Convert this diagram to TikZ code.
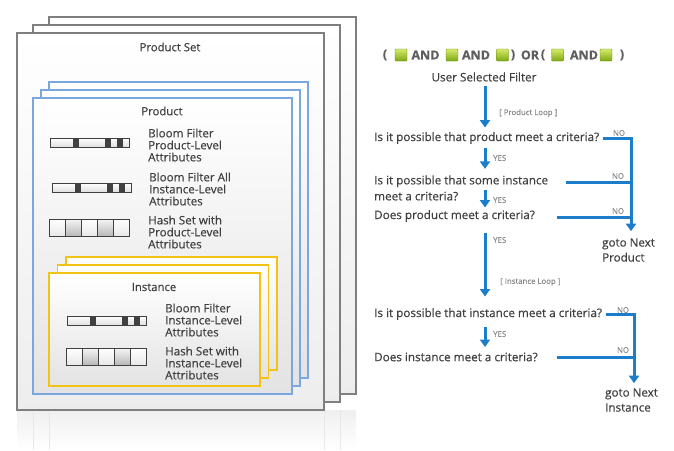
\documentclass[tikz,border=0pt]{standalone}
\usepackage{fontspec}
\setmainfont{Open Sans}[FakeBold=0.45]
\usetikzlibrary{arrows.meta}

\definecolor{txtgray}{HTML}{404040}
\definecolor{lblgray}{HTML}{8A8A8A}
\definecolor{cardgray}{HTML}{7F7F7F}
\definecolor{prodblue}{HTML}{7AA7DD}
\definecolor{instyellow}{HTML}{F2C314}
\definecolor{flowblue}{HTML}{1C7DCB}
\definecolor{sqtop}{HTML}{D6EA6A}
\definecolor{sqbot}{HTML}{7DA812}

\tikzset{
  card/.style={draw=cardgray, line width=1.4pt, top color=white, bottom color=gray!14},
  prodcard/.style={draw=prodblue, line width=1.2pt, top color=white, bottom color=gray!22},
  instcard/.style={draw=instyellow, line width=1.6pt, top color=white, bottom color=gray!22},
  title/.style={font=\fontsize{11.3}{13}\selectfont, text=txtgray},
  attr/.style={font=\fontsize{11.6}{12}\selectfont, text=txtgray, align=left, anchor=west, inner sep=0pt},
  quest/.style={font=\fontsize{11.7}{16}\selectfont, text=txtgray, align=left, anchor=west, inner sep=1pt},
  goto/.style={font=\fontsize{11.6}{15}\selectfont, text=txtgray, align=left, anchor=west, inner sep=1pt},
  tiny/.style={font=\fontsize{7.8}{9}\selectfont, text=lblgray, inner sep=0pt},
  flow/.style={draw=flowblue, line width=3pt, -{Triangle[width=10pt,length=7.5pt]}},
  noline/.style={draw=flowblue, line width=3pt},
  gsq/.style={minimum size=12pt, inner sep=0pt, rounded corners=0.8pt, top color=sqtop, bottom color=sqbot, draw=sqbot!80!black, line width=0.3pt},
  filtxt/.style={font=\fontsize{12.5}{14}\selectfont\bfseries, text=txtgray!85, inner sep=0pt},
  bloombar/.pic={
    \shade[top color=white, bottom color=gray!25] (0,0) rectangle (79,9);
    \foreach \m in {23,55,67} \fill[black!75] (\m,0) rectangle ++(5.5,9);
    \draw[darkgray, line width=0.7pt] (0,0) rectangle (79,9);
  },
  hashbar/.pic={
    \foreach \c in {0,2,4} \shade[top color=white, bottom color=gray!18] (16*\c,0) rectangle ++(16,17);
    \foreach \c in {1,3} \shade[top color=gray!8, bottom color=gray!55] (16*\c,0) rectangle ++(16,17);
    \foreach \c in {0,...,4} \draw[darkgray, line width=0.7pt] (16*\c,0) rectangle ++(16,17);
  },
}

\begin{document}
\begin{tikzpicture}[x=1pt,y=-1pt]
  \useasboundingbox (0,0) rectangle (674,450);

  % reflection under the stack
  \shade[top color=gray!12, bottom color=white] (17,410) rectangle (356,450);
  \foreach \x in {33,49,324,340} \draw[gray!18, line width=1pt] (\x,410) -- (\x,450);

  % Product Set cards
  \foreach \d in {2,1,0}
    \draw[card] (17+16*\d,33-8*\d) rectangle ++(307,377);
  \node[title] (pset) at (170,47) {Product Set};

  % Product cards
  \foreach \d in {2,1,0}
    \draw[prodcard] (33+8*\d,98-8*\d) rectangle ++(259,296);
  \node[title] (prod) at (162,111) {Product};

  \pic at (50,138) {bloombar};
  \node[attr] (bfprod) at (148,145) {Bloom Filter\\Product-Level\\Attributes};
  \pic at (52,183) {bloombar};
  \node[attr] (bfall) at (149,189) {Bloom Filter All\\Instance-Level\\Attributes};
  \pic at (49,219) {hashbar};
  \node[attr] (hsprod) at (148,232) {Hash Set with\\Product-Level\\Attributes};

  % Instance cards
  \foreach \d in {2,1,0}
    \draw[instcard] (49+8.5*\d,273-8*\d) rectangle ++(211,113);
  \node[title] (inst) at (154,287) {Instance};

  \pic at (67,316) {bloombar};
  \node[attr] (bfinst) at (165,320) {Bloom Filter\\Instance-Level\\Attributes};
  \pic at (66,348) {hashbar};
  \node[attr] (hsinst) at (165,363) {Hash Set with\\Instance-Level\\Attributes};

  % filter expression
  \foreach \x in {401,452,502.5,557.5,606}
    \node[gsq] (sq\x) at (\x,55) {};
  \foreach \x/\t [count=\i] in {385/{(},425.5/AND,476/AND,513/{)},530/OR,543/{(},584/AND,622/{)}}
    \node[filtxt] (op\i) at (\x,55) {\t};
  \node[quest, anchor=center] (filt) at (484,77) {User Selected Filter};

  % questions
  \node[quest] (q1) at (373,138) {Is it possible that product meet a criteria?};
  \node[quest] (q2) at (373,188) {Is it possible that some instance\\meet a criteria?};
  \node[quest] (q3) at (373,216) {Does product meet a criteria?};
  \node[quest] (q4) at (373,314) {Is it possible that instance meet a criteria?};
  \node[quest] (q5) at (373,357) {Does instance meet a criteria?};
  \node[goto] (nextP) at (601,250) {goto Next\\Product};
  \node[goto] (nextI) at (604,400) {goto Next\\Instance};

  \coordinate (ax) at (485,0);
  \coordinate (busP) at (631,0);
  \coordinate (busI) at (634,0);
  \coordinate (q2no) at (566,182);
  \coordinate (q3no) at (557,217);
  \coordinate (q5no) at (557,357);

  % yes path
  \draw[flow, shorten <=3.4pt, shorten >=3.4pt] (filt.south -| ax) -- (q1.north -| ax);
  \draw[flow, shorten <=3.4pt, shorten >=5.4pt] (q1.south -| ax) -- (q2.north -| ax);
  \draw[flow, shorten <=2pt, shorten >=1.4pt] (q2.east -| ax) -- (q3.north -| ax);
  \draw[flow, shorten <=10.4pt, shorten >=10.4pt] (q3.south -| ax) -- (q4.north -| ax);
  \draw[flow, shorten <=6.4pt, shorten >=4.4pt] (q4.south -| ax) -- (q5.north -| ax);

  % no path
  \draw[flow, shorten <=3pt, shorten >=5.9pt] (q1.east) -| (busP |- nextP.north);
  \draw[noline] (q2no) -- (q2no -| busP);
  \draw[noline] (q3no) -- (q3no -| busP);
  \draw[flow, shorten <=3pt, shorten >=3.9pt] (q4.east) -| (busI |- nextI.north);
  \draw[noline] (q5no) -- (q5no -| busI);

  % small labels
  \node[tiny, anchor=west] (ploop) at (499,113) {[ Product Loop ]};
  \node[tiny, anchor=west] (iloop) at (500,282) {[ Instance Loop ]};
  \foreach \y [count=\i] in {158,200,240,334}
    \node[tiny, anchor=west] (yes\i) at (493,\y) {YES};
  \foreach \x/\y [count=\i] in {619/133,618/176,618/211,623/310,623/350}
    \node[tiny] (no\i) at (\x,\y) {NO};
\end{tikzpicture}
\end{document}
